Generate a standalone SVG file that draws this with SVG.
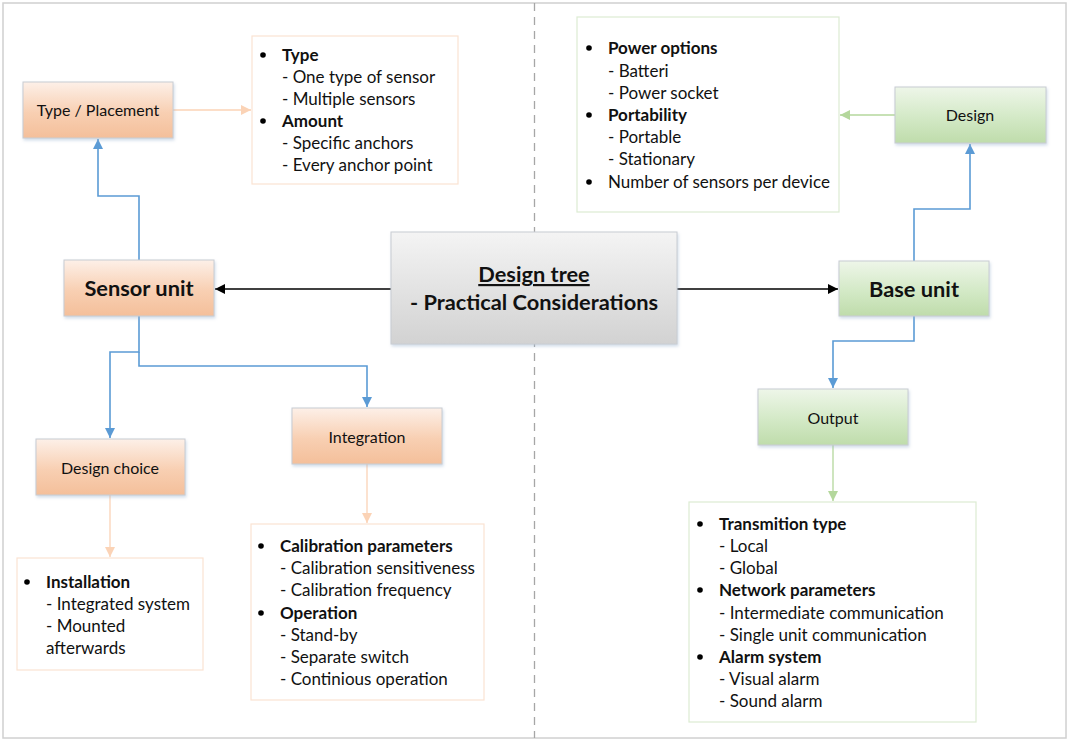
<svg xmlns="http://www.w3.org/2000/svg" width="1067" height="739" viewBox="0 0 1067 739">
<defs>
<linearGradient id="gPeach" x1="0" y1="0" x2="0" y2="1"><stop offset="0" stop-color="#fdf0e8"/><stop offset="0.55" stop-color="#f8cfb2"/><stop offset="1" stop-color="#f4bf9a"/></linearGradient>
<linearGradient id="gGreen" x1="0" y1="0" x2="0" y2="1"><stop offset="0" stop-color="#eef6e9"/><stop offset="0.55" stop-color="#d3e9c6"/><stop offset="1" stop-color="#bfdcab"/></linearGradient>
<linearGradient id="gGray" x1="0" y1="0" x2="0" y2="1"><stop offset="0" stop-color="#f4f4f4"/><stop offset="1" stop-color="#d2d2d2"/></linearGradient>
<filter id="sh" x="-10%" y="-10%" width="125%" height="130%"><feDropShadow dx="1" dy="2" stdDeviation="1.5" flood-color="#9bb3cf" flood-opacity="0.45"/></filter>
<marker id="aBlack" viewBox="0 0 10 10" refX="10" refY="5" markerWidth="10" markerHeight="10" markerUnits="userSpaceOnUse" orient="auto"><path d="M0,0 L10,5 L0,10 z" fill="#000"/></marker>
<marker id="aBlue" viewBox="0 0 10 10" refX="10" refY="5" markerWidth="10" markerHeight="10" markerUnits="userSpaceOnUse" orient="auto"><path d="M0,0 L10,5 L0,10 z" fill="#5b9bd5"/></marker>
<marker id="aPeach" viewBox="0 0 10 10" refX="10" refY="5" markerWidth="10" markerHeight="10" markerUnits="userSpaceOnUse" orient="auto"><path d="M0,0 L10,5 L0,10 z" fill="#fbd3b6"/></marker>
<marker id="aGreen" viewBox="0 0 10 10" refX="10" refY="5" markerWidth="10" markerHeight="10" markerUnits="userSpaceOnUse" orient="auto"><path d="M0,0 L10,5 L0,10 z" fill="#b4d79c"/></marker>
</defs>
<style>
text{font-family:Lato,"Liberation Sans",sans-serif;fill:#111;}
.lbl{font-size:16px;text-anchor:middle;}
.big{font-size:21.8px;font-weight:bold;text-anchor:middle;}
.li{font-size:17px;}
.b{font-weight:bold;}
.node{stroke:#c8ccd2;stroke-width:1;filter:url(#sh);}
.peach{fill:url(#gPeach);}
.green{fill:url(#gGreen);}
.gray{fill:url(#gGray);}
.listP{fill:#fff;stroke:#fbe3d2;stroke-width:1.2;}
.listG{fill:#fff;stroke:#dcecd2;stroke-width:1.2;}
.cBlue{fill:none;stroke:#5b9bd5;stroke-width:1.6;marker-end:url(#aBlue);}
.cBlack{fill:none;stroke:#000;stroke-width:1.6;marker-end:url(#aBlack);}
.cPeach{fill:none;stroke:#fbd3b6;stroke-width:1.3;marker-end:url(#aPeach);}
.cGreen{fill:none;stroke:#b4d79c;stroke-width:1.3;marker-end:url(#aGreen);}
</style>
<rect x="0" y="0" width="1067" height="739" fill="#fff"/>
<rect x="3" y="3" width="1063" height="735" fill="none" stroke="#d0d0d0" stroke-width="1.5"/>
<line x1="534.5" y1="3" x2="534.5" y2="738" stroke="#a6a6a6" stroke-width="1.3" stroke-dasharray="8,6"/>

<g id="connectors">
<path class="cBlack" d="M391,289 L215,289"/>
<path class="cBlack" d="M677,289 L838,289"/>
<path class="cBlue" d="M139,260 L139,196 L98,196 L98,139"/>
<path class="cBlue" d="M139,316 L139,352 L110,352 L110,438"/>
<path class="cBlue" d="M139,352 L139,366 L367,366 L367,407"/>
<path class="cBlue" d="M914,261 L914,209 L970,209 L970,144"/>
<path class="cBlue" d="M914,316 L914,341 L833,341 L833,388"/>
<path class="cPeach" d="M173,110 L251,110"/>
<path class="cPeach" d="M110,495 L110,557"/>
<path class="cPeach" d="M367,464 L367,523"/>
<path class="cGreen" d="M895,115 L840,115"/>
<path class="cGreen" d="M833,445 L833,501"/>
</g>

<g id="design-tree">
<rect class="node gray" x="391" y="232" width="286" height="112"/>
<text class="big" x="534" y="282" text-decoration="underline">Design tree</text>
<text class="big" x="534" y="310">- Practical Considerations</text>
</g>

<g id="sensor-unit">
<rect class="node peach" x="64" y="260" width="150" height="56"/>
<text class="big" x="139" y="296">Sensor unit</text>
</g>

<g id="base-unit">
<rect class="node green" x="839" y="261" width="150" height="55"/>
<text class="big" x="914" y="297">Base unit</text>
</g>

<g id="type-placement">
<rect class="node peach" x="23" y="82" width="150" height="56"/>
<text class="lbl" x="98" y="115.5">Type / Placement</text>
</g>

<g id="design-choice">
<rect class="node peach" x="36" y="439" width="149" height="56"/>
<text class="lbl" x="110" y="473.5">Design choice</text>
</g>

<g id="integration">
<rect class="node peach" x="292" y="408" width="150" height="56"/>
<text class="lbl" x="367" y="442.5">Integration</text>
</g>

<g id="design">
<rect class="node green" x="895" y="87" width="151" height="56"/>
<text class="lbl" x="970" y="120.5">Design</text>
</g>

<g id="output">
<rect class="node green" x="758" y="389" width="150" height="56"/>
<text class="lbl" x="833" y="423.5">Output</text>
</g>

<g id="type-list">
<rect class="listP" x="252" y="36" width="206" height="148"/>
<circle cx="263" cy="55" r="2.8" fill="#000"/>
<circle cx="263" cy="121" r="2.8" fill="#000"/>
<text class="li b" x="282" y="61">Type</text>
<text class="li" x="282" y="83">- One  type of sensor</text>
<text class="li" x="282" y="105">- Multiple sensors</text>
<text class="li b" x="282" y="127">Amount</text>
<text class="li" x="282" y="149">- Specific anchors</text>
<text class="li" x="282" y="171">- Every anchor point</text>
</g>

<g id="power-list">
<rect class="listG" x="577" y="17" width="262" height="195"/>
<circle cx="589" cy="48" r="2.8" fill="#000"/>
<circle cx="589" cy="115" r="2.8" fill="#000"/>
<circle cx="589" cy="182" r="2.8" fill="#000"/>
<text class="li b" x="608" y="54">Power options</text>
<text class="li" x="608" y="77">- Batteri</text>
<text class="li" x="608" y="99">- Power socket</text>
<text class="li b" x="608" y="121">Portability</text>
<text class="li" x="608" y="143">- Portable</text>
<text class="li" x="608" y="165">- Stationary</text>
<text class="li" x="608" y="188">Number of sensors per device</text>
</g>

<g id="installation-list">
<rect class="listP" x="17" y="558" width="186" height="112"/>
<circle cx="27" cy="582" r="2.8" fill="#000"/>
<text class="li b" x="46" y="588">Installation</text>
<text class="li" x="46" y="610">- Integrated system</text>
<text class="li" x="46" y="632">- Mounted</text>
<text class="li" x="46" y="654">afterwards</text>
</g>

<g id="calibration-list">
<rect class="listP" x="251" y="524" width="233" height="176"/>
<circle cx="261" cy="546" r="2.8" fill="#000"/>
<circle cx="261" cy="613" r="2.8" fill="#000"/>
<text class="li b" x="280" y="552">Calibration parameters</text>
<text class="li" x="280" y="574">- Calibration sensitiveness</text>
<text class="li" x="280" y="596">- Calibration frequency</text>
<text class="li b" x="280" y="619">Operation</text>
<text class="li" x="280" y="641">- Stand-by</text>
<text class="li" x="280" y="663">- Separate switch</text>
<text class="li" x="280" y="685">- Continious operation</text>
</g>

<g id="transmition-list">
<rect class="listG" x="689" y="502" width="287" height="220"/>
<circle cx="700" cy="524" r="2.8" fill="#000"/>
<circle cx="700" cy="590" r="2.8" fill="#000"/>
<circle cx="700" cy="657" r="2.8" fill="#000"/>
<text class="li b" x="719" y="530">Transmition type</text>
<text class="li" x="719" y="552">- Local</text>
<text class="li" x="719" y="574">- Global</text>
<text class="li b" x="719" y="596">Network parameters</text>
<text class="li" x="719" y="619">- Intermediate communication</text>
<text class="li" x="719" y="641">- Single unit communication</text>
<text class="li b" x="719" y="663">Alarm system</text>
<text class="li" x="719" y="685">- Visual alarm</text>
<text class="li" x="719" y="707">- Sound alarm</text>
</g>
</svg>
